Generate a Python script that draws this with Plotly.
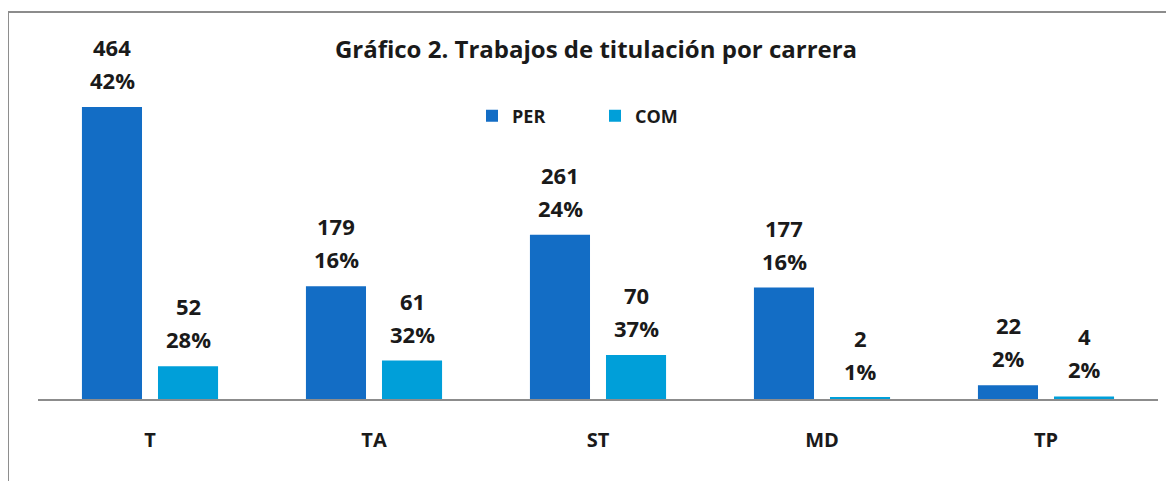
import plotly.graph_objects as go

categories = ["T", "TA", "ST", "MD", "TP"]
per_values = [464, 179, 261, 177, 22]
com_values = [52, 61, 70, 2, 4]
per_pct = ["42%", "16%", "24%", "16%", "2%"]
com_pct = ["28%", "32%", "37%", "1%", "2%"]

PER_COLOR = "#136DC5"
COM_COLOR = "#009FD9"
FONT = "Open Sans"
TXT = "#1a1a1a"

fig = go.Figure()
fig.add_trace(go.Bar(name="PER", x=categories, y=per_values, marker_color=PER_COLOR,
                     marker_line_width=0))
fig.add_trace(go.Bar(name="COM", x=categories, y=com_values, marker_color=COM_COLOR,
                     marker_line_width=0))

annotations = []
for vals, pcts, shift in [(per_values, per_pct, -38), (com_values, com_pct, 38)]:
    for c, v, p in zip(categories, vals, pcts):
        annotations.append(dict(x=c, y=v, xref="x", yref="y", text=str(v),
                                showarrow=False, xshift=shift, yshift=60, yanchor="middle",
                                font=dict(family=FONT, size=22, color=TXT, weight="bold")))
        annotations.append(dict(x=c, y=v, xref="x", yref="y", text=p,
                                showarrow=False, xshift=shift, yshift=27, yanchor="middle",
                                font=dict(family=FONT, size=22, color=TXT, weight="bold")))

fig.update_layout(
    width=1174, height=481,
    margin=dict(l=30, r=24, t=4, b=90, autoexpand=False),
    paper_bgcolor="white", plot_bgcolor="white",
    bargap=0.321, bargroupgap=0.21,
    title=dict(text="Gráfico 2. Trabajos de titulación por carrera",
               x=588 / 1174, xanchor="center", xref="container", y=1 - 42 / 481, yanchor="middle",
               yref="container",
               font=dict(family=FONT, size=24, color=TXT, weight="bold")),
    legend=dict(orientation="h", x=(472 - 38) / 1120, xanchor="left", y=(399 - 116) / 387,
                yref="paper", yanchor="middle",
                font=dict(family=FONT, size=18, color=TXT, weight="bold"),
                entrywidth=78, entrywidthmode="pixels", itemsizing="constant",
                bgcolor="rgba(0,0,0,0)"),
    xaxis=dict(showline=True, linecolor="#8c8c8c", linewidth=2, ticks="outside",
               ticklen=22, tickcolor="rgba(0,0,0,0)",
               tickfont=dict(family=FONT, size=20, color=TXT, weight="bold"),
               showgrid=False, zeroline=False),
    yaxis=dict(range=[0, 615], visible=False, showgrid=False, zeroline=False),
    annotations=annotations,
    shapes=[
        dict(type="line", xref="paper", yref="paper", x0=-0.0268, x1=1.03, y0=1.0, y1=1.0,
             line=dict(color="#8c8c8c", width=2)),
        dict(type="line", xref="paper", yref="paper", x0=-0.0268, x1=-0.0268, y0=1.0, y1=-0.25,
             line=dict(color="#8c8c8c", width=2)),
    ],
)

fig.write_html("out.html")
